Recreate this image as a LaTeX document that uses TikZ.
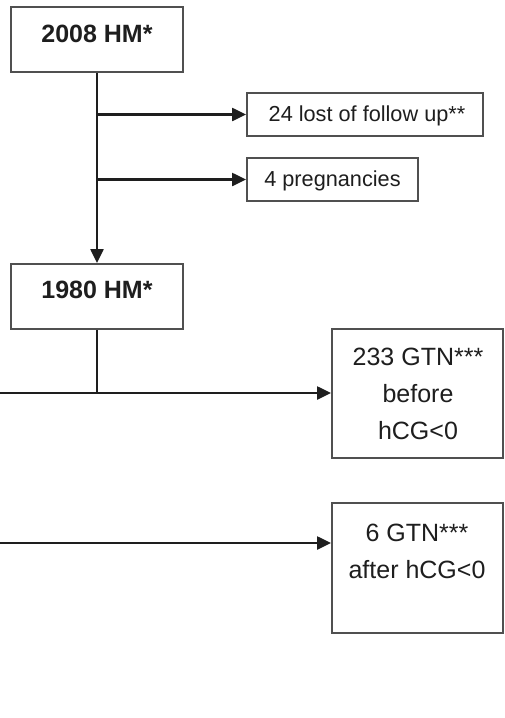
\documentclass[tikz,border=0pt]{standalone}
\usepackage{fontspec}
\setmainfont{Liberation Sans}
\usetikzlibrary{arrows.meta}
\definecolor{ink}{HTML}{1E1E1E}
\definecolor{edge}{HTML}{505050}
\begin{document}
\begin{tikzpicture}[x=1pt,y=-1pt,
  box/.style={draw=edge, line width=1.8pt, fill=white, inner sep=0pt},
  conn/.style={draw=ink, line width=2.2pt},
  arr/.style={conn, -{Triangle[length=14pt,width=13pt]}},
  txt/.style={text=ink, inner sep=0pt, align=center},
  big/.style={font=\fontsize{25}{37}\selectfont},
  small/.style={font=\fontsize{21.7}{26}\selectfont},
  bold/.style={font=\bfseries\fontsize{25}{30}\selectfont}]
\useasboundingbox (0,0) rectangle (504,718);
% boxes
\node[box, minimum width=172pt, minimum height=65pt] (b1) at (97,39.5) {};
\node[box, minimum width=172pt, minimum height=65pt] (b2) at (97,296.5) {};
\node[box, minimum width=236pt, minimum height=43pt] (b24) at (365,114.5) {};
\node[box, minimum width=171pt, minimum height=43pt] (b4) at (332.5,179.5) {};
\node[box, minimum width=171pt, minimum height=129pt] (b233) at (417.5,393.5) {};
\node[box, minimum width=171pt, minimum height=130pt] (b6) at (417.5,568) {};
% texts
\node[txt, bold] (t1) at (97,34) {2008 HM*};
\node[txt, bold] (t2) at (97,290) {1980 HM*};
\node[txt, small] (t24) at (367,116) {24 lost of follow up**};
\node[txt, small] (t4) at (332.5,181) {4 pregnancies};
\node[txt, big] (t233) at (418,393.5) {233 GTN***\\before\\hCG<0};
\node[txt, big] (t6) at (417,551.5) {6 GTN***\\after hCG<0};
% connectors
\coordinate (l1) at (0,393);
\coordinate (l2) at (0,543);
\draw[arr] (b1.south) -- (b2.north);
\draw[arr] (b1.south |- b24.west) -- (b24.west);
\draw[arr] (b1.south |- b4.west) -- (b4.west);
\draw[conn] (b2.south) -- (b2.south |- l1);
\draw[arr] (l1) -- (l1 -| b233.west);
\draw[arr] (l2) -- (l2 -| b6.west);
\end{tikzpicture}
\end{document}
